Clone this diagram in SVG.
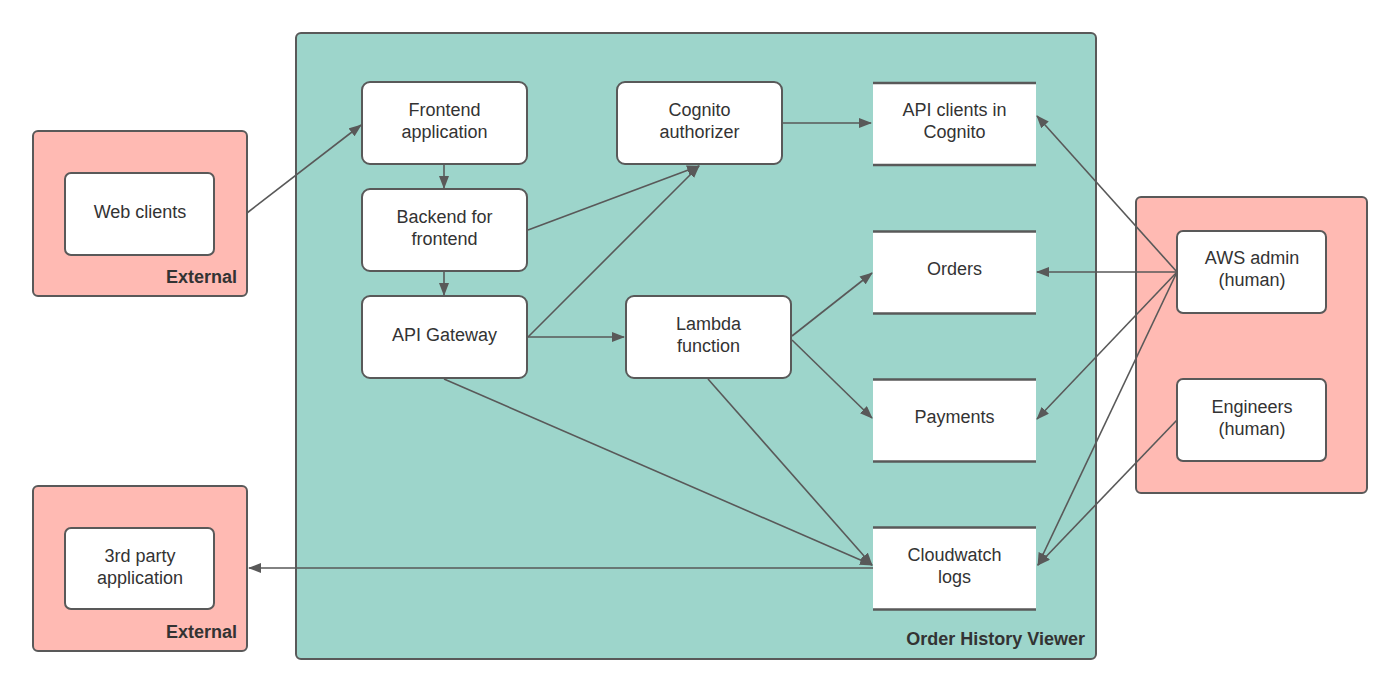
<svg xmlns="http://www.w3.org/2000/svg" width="1400" height="692" viewBox="0 0 1400 692">
<defs>
<marker id="arr" viewBox="0 0 13 10" refX="12" refY="5" markerWidth="13" markerHeight="10" markerUnits="userSpaceOnUse" orient="auto">
<path d="M0,0 L13,5 L0,10 Z" fill="#595959"/>
</marker>
<style>
.grp{fill:#ffbab3;stroke:#595959;stroke-width:2}
.sys{fill:#9dd5cb;stroke:#595959;stroke-width:2}
.node{fill:#ffffff;stroke:#595959;stroke-width:2}
.store{fill:#ffffff;stroke:none}
.bar{stroke:#595959;stroke-width:2.5}
.lbl{font-family:"Liberation Sans",Arial,sans-serif;font-size:18px;fill:#333333;text-anchor:middle}
.glbl{font-family:"Liberation Sans",Arial,sans-serif;font-size:18px;font-weight:bold;fill:#333333;text-anchor:end}
.c{stroke:#595959;stroke-width:1.6;fill:none;marker-end:url(#arr)}
</style>
</defs>
<rect width="1400" height="692" fill="#ffffff"/>

<g id="order-history-viewer">
<rect class="sys" x="296" y="33" width="800" height="626" rx="5"/>
<text class="glbl" x="1085" y="645">Order History Viewer</text>
</g>

<g id="external-web">
<rect class="grp" x="33" y="131" width="214" height="165" rx="5"/>
<text class="glbl" x="237" y="283">External</text>
</g>
<g id="external-3rd">
<rect class="grp" x="33" y="486" width="214" height="165" rx="5"/>
<text class="glbl" x="237" y="638">External</text>
</g>
<g id="humans">
<rect class="grp" x="1136" y="197" width="231" height="296" rx="5"/>
</g>

<g id="web-clients">
<rect class="node" x="65" y="173" width="149" height="82" rx="6"/>
<text class="lbl" x="140" y="218">Web clients</text>
</g>
<g id="third-party">
<rect class="node" x="65" y="528" width="149" height="81" rx="6"/>
<text class="lbl" x="140" y="562">3rd party</text>
<text class="lbl" x="140" y="584">application</text>
</g>
<g id="aws-admin">
<rect class="node" x="1177" y="231" width="149" height="82" rx="6"/>
<text class="lbl" x="1252" y="264">AWS admin</text>
<text class="lbl" x="1252" y="286">(human)</text>
</g>
<g id="engineers">
<rect class="node" x="1177" y="379" width="149" height="82" rx="6"/>
<text class="lbl" x="1252" y="413">Engineers</text>
<text class="lbl" x="1252" y="435">(human)</text>
</g>

<g id="frontend">
<rect class="node" x="362" y="82" width="165" height="82" rx="8"/>
<text class="lbl" x="444.5" y="116">Frontend</text>
<text class="lbl" x="444.5" y="138">application</text>
</g>
<g id="bff">
<rect class="node" x="362" y="189" width="165" height="82" rx="8"/>
<text class="lbl" x="444.5" y="223">Backend for</text>
<text class="lbl" x="444.5" y="245">frontend</text>
</g>
<g id="api-gateway">
<rect class="node" x="362" y="296" width="165" height="82" rx="8"/>
<text class="lbl" x="444.5" y="341">API Gateway</text>
</g>
<g id="cognito-authorizer">
<rect class="node" x="617" y="82" width="165" height="82" rx="8"/>
<text class="lbl" x="699.5" y="116">Cognito</text>
<text class="lbl" x="699.5" y="138">authorizer</text>
</g>
<g id="lambda">
<rect class="node" x="626" y="296" width="165" height="82" rx="8"/>
<text class="lbl" x="708.5" y="330">Lambda</text>
<text class="lbl" x="708.5" y="352">function</text>
</g>

<g id="api-clients">
<rect class="store" x="873" y="82" width="163" height="82"/>
<line class="bar" x1="873" y1="83" x2="1036" y2="83"/>
<line class="bar" x1="873" y1="165" x2="1036" y2="165"/>
<text class="lbl" x="954.5" y="116">API clients in</text>
<text class="lbl" x="954.5" y="138">Cognito</text>
</g>
<g id="orders">
<rect class="store" x="873" y="231" width="163" height="82"/>
<line class="bar" x1="873" y1="231.5" x2="1036" y2="231.5"/>
<line class="bar" x1="873" y1="313.5" x2="1036" y2="313.5"/>
<text class="lbl" x="954.5" y="275">Orders</text>
</g>
<g id="payments">
<rect class="store" x="873" y="379" width="163" height="82"/>
<line class="bar" x1="873" y1="379.5" x2="1036" y2="379.5"/>
<line class="bar" x1="873" y1="461.5" x2="1036" y2="461.5"/>
<text class="lbl" x="954.5" y="423">Payments</text>
</g>
<g id="cloudwatch">
<rect class="store" x="873" y="527" width="163" height="82"/>
<line class="bar" x1="873" y1="527.5" x2="1036" y2="527.5"/>
<line class="bar" x1="873" y1="609.5" x2="1036" y2="609.5"/>
<text class="lbl" x="954.5" y="561">Cloudwatch</text>
<text class="lbl" x="954.5" y="583">logs</text>
</g>

<g id="connectors">
<line class="c" x1="247" y1="213" x2="361" y2="125"/>
<line class="c" x1="444" y1="165" x2="444" y2="188"/>
<line class="c" x1="444" y1="272" x2="444" y2="295"/>
<line class="c" x1="528" y1="230" x2="699" y2="166"/>
<line class="c" x1="528" y1="337" x2="699" y2="166"/>
<line class="c" x1="528" y1="337" x2="624" y2="337"/>
<line class="c" x1="783" y1="123" x2="871" y2="123"/>
<line class="c" x1="792" y1="336" x2="872" y2="273"/>
<line class="c" x1="792" y1="340" x2="872" y2="418"/>
<line class="c" x1="444" y1="379" x2="872" y2="565"/>
<line class="c" x1="708" y1="379" x2="872" y2="565"/>
<line class="c" x1="873" y1="568" x2="249" y2="568"/>
<line class="c" x1="1177" y1="272" x2="1037" y2="116"/>
<line class="c" x1="1177" y1="272" x2="1037" y2="272"/>
<line class="c" x1="1177" y1="272" x2="1037" y2="419"/>
<line class="c" x1="1177" y1="272" x2="1038" y2="565"/>
<line class="c" x1="1177" y1="420" x2="1038" y2="565"/>
</g>
</svg>
